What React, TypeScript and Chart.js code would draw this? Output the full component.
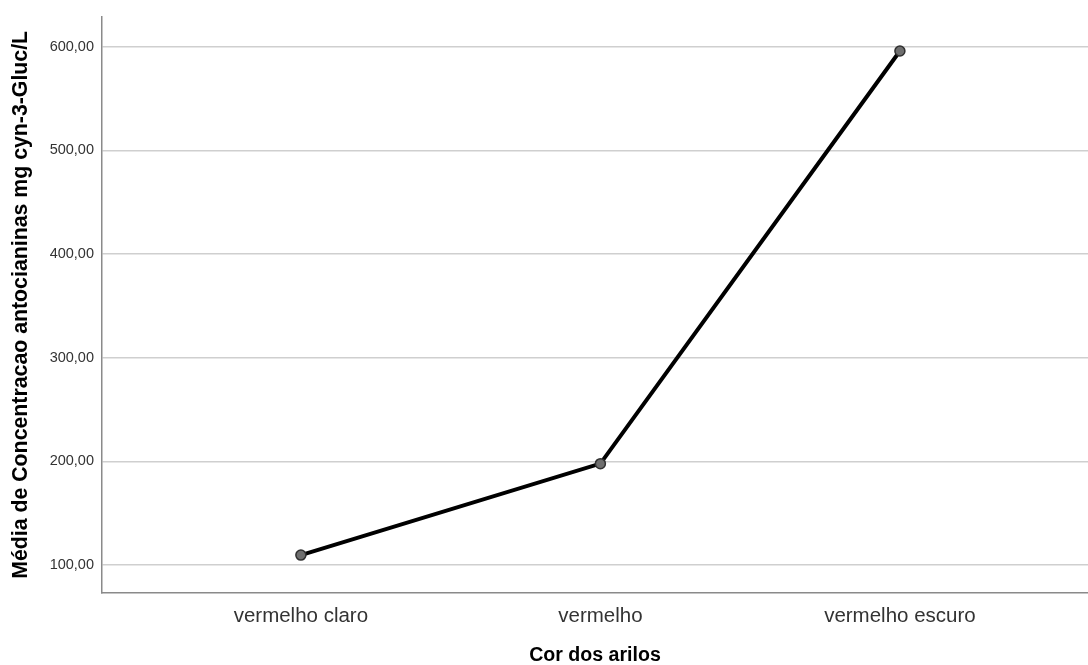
import React, { useEffect, useRef } from "react";
import { Chart, registerables } from "chart.js";

Chart.register(...registerables);

const categories: string[] = ["vermelho claro", "vermelho", "vermelho escuro"];
const meanValues: number[] = [109.6, 197.8, 595.9];
const yTickValues: number[] = [100, 200, 300, 400, 500, 600];
const yAxisTitle = "Média de Concentracao antocianinas mg cyn-3-Gluc/L";
const xAxisTitle = "Cor dos arilos";

const FONT = "'Liberation Sans', Arial, Helvetica, sans-serif";

export default function App() {
  const canvasRef = useRef<HTMLCanvasElement | null>(null);

  useEffect(() => {
    document.body.style.margin = "0";
    const canvas = canvasRef.current;
    if (!canvas) return;
    const chart = new Chart(canvas, {
      type: "line",
      data: {
        datasets: [
          {
            data: meanValues.map((v, i) => ({ x: i + 1, y: v })),
            borderColor: "#000000",
            borderWidth: 4,
            pointRadius: 5,
            pointBackgroundColor: "#6e6e6e",
            pointBorderColor: "#303030",
            pointBorderWidth: 1.5,
            tension: 0,
            clip: false,
          },
        ],
      },
      options: {
        animation: false,
        responsive: false,
        maintainAspectRatio: false,
        layout: { autoPadding: false, padding: { top: 15, right: 0, left: 0, bottom: 0 } },
        plugins: {
          legend: { display: false },
          tooltip: { enabled: false },
        },
        scales: {
          x: {
            type: "linear",
            min: 0.336,
            max: 3.628,
            afterBuildTicks: (scale: any) => {
              scale.ticks = categories.map((_, i) => ({ value: i + 1 }));
            },
            afterFit: (scale: any) => {
              scale.height = 72;
              scale.paddingLeft = 0;
              scale.paddingRight = 0;
            },
            grid: { display: false, drawTicks: false },
            border: { display: true, color: "#8a8a8a", width: 1.5 },
            ticks: {
              padding: 11,
              color: "#333333",
              font: { family: FONT, size: 20.5 },
              maxRotation: 0,
              callback: (v: any) => categories[Math.round(Number(v)) - 1] ?? "",
            },
            title: {
              display: true,
              text: xAxisTitle,
              color: "#000000",
              font: { family: FONT, size: 19.6, weight: "bold", lineHeight: 1 },
              padding: { top: 0, bottom: 0 },
            },
          },
          y: {
            type: "linear",
            min: 73,
            max: 629,
            afterBuildTicks: (scale: any) => {
              scale.ticks = yTickValues.map((v) => ({ value: v }));
            },
            afterFit: (scale: any) => {
              scale.width = 102;
            },
            grid: { color: "#cfcfcf", lineWidth: 1.5, drawTicks: false },
            border: { display: true, color: "#8a8a8a", width: 1.5 },
            ticks: {
              padding: 8,
              color: "#333333",
              font: { family: FONT, size: 14.5 },
              callback: (v: any) => Number(v).toFixed(2).replace(".", ","),
            },
            title: {
              display: true,
              text: yAxisTitle,
              color: "#000000",
              font: { family: FONT, size: 21.3, weight: "bold", lineHeight: 1.2 },
              padding: { top: 8, bottom: 0 },
            },
          },
        },
      },
    });
    return () => chart.destroy();
  }, []);

  return (
    <div style={{ position: "fixed", left: 0, top: 0, width: 1088, height: 665, background: "#ffffff" }}>
      <canvas ref={canvasRef} width={1088} height={665} style={{ width: 1088, height: 665 }} />
    </div>
  );
}
